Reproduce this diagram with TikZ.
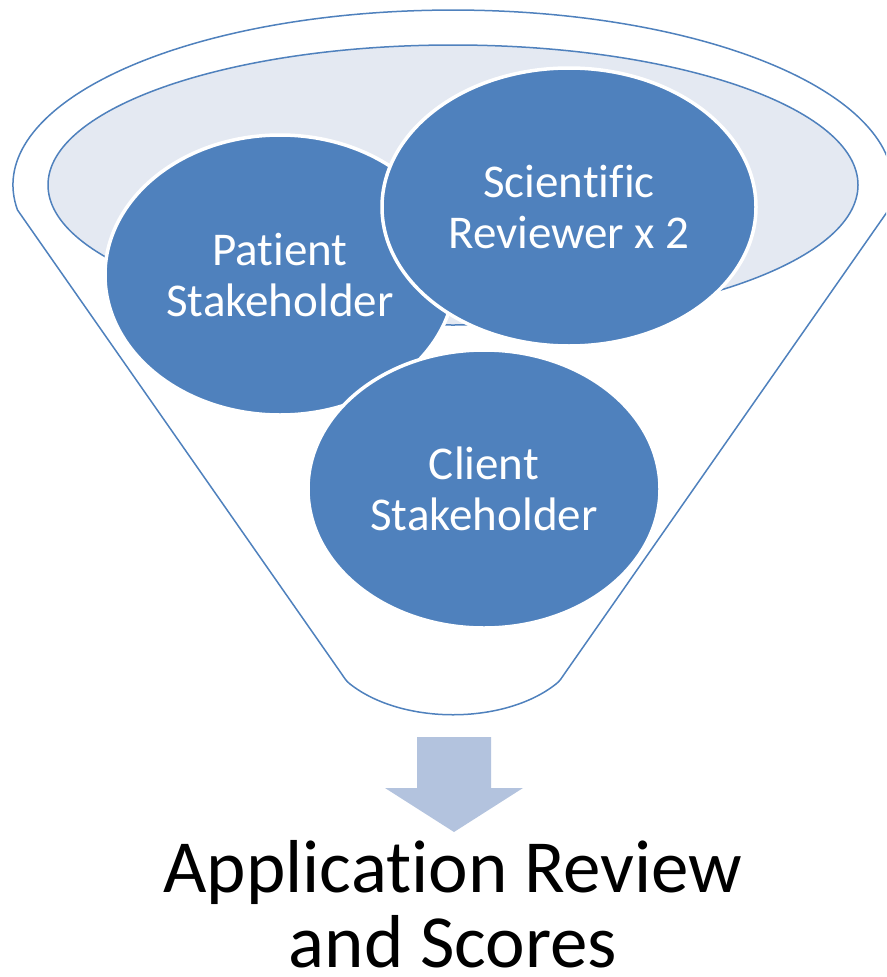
\documentclass[tikz,border=0pt]{standalone}
\usepackage{fontspec}
\setmainfont{Carlito}[Ligatures={NoCommon}]
\usetikzlibrary{shapes.geometric}
\definecolor{accent}{HTML}{4F81BD}
\definecolor{rimfill}{HTML}{E4E9F2}
\definecolor{arrowfill}{HTML}{B3C3DE}
\begin{document}
\begin{tikzpicture}[x=1pt,y=-1pt,
  rim/.style={draw=accent, line width=1.5pt},
  bubble/.style={ellipse, fill=accent, draw=white, line width=3.5pt, text=white,
    align=center, inner sep=0pt, font=\fontsize{47}{51}\selectfont},
  result/.style={align=center, inner sep=0pt, text=black, font=\fontsize{75}{75}\selectfont}]
\useasboundingbox (0,0) rectangle (886,977);
\clip (0,0) rectangle (886,977);
% funnel body
\coordinate (rimL) at (17.5,210);
\coordinate (lowL) at (341,673);
\coordinate (lowR) at (565,673);
\draw[rim, fill=white] (rimL)
  arc[start angle=171.8, end angle=368.2, x radius=440, y radius=175]
  -- (lowR) .. controls (561.5,678) and (560,681) .. (556,684)
  .. controls (504,725) and (402,725) .. (350,684)
  .. controls (346,681) and (344.5,678) .. (lowL) -- cycle;
% funnel mouth
\node[ellipse, rim, fill=rimfill, minimum width=810pt, minimum height=280pt, inner sep=0pt] (mouth) at (453,185) {};
% bubbles
\node[bubble, minimum width=350pt, minimum height=280pt] (patient) at (280,275) {Patient\\Stakeholder};
\node[bubble, minimum width=374pt, minimum height=278pt] (scientific) at (569,207) {Scientific\\Reviewer x 2};
\node[bubble, minimum width=352pt, minimum height=278pt] (client) at (484,489) {Client\\Stakeholder};
% arrow
\fill[arrowfill] (417,737) -- (491,737) -- (491,788) -- (523,788) -- (454,832) -- (385,788) -- (417,788) -- cycle;
% result
\node[result, anchor=base] (scores) at (453,967) {Application Review\\and Scores};
\end{tikzpicture}
\end{document}
